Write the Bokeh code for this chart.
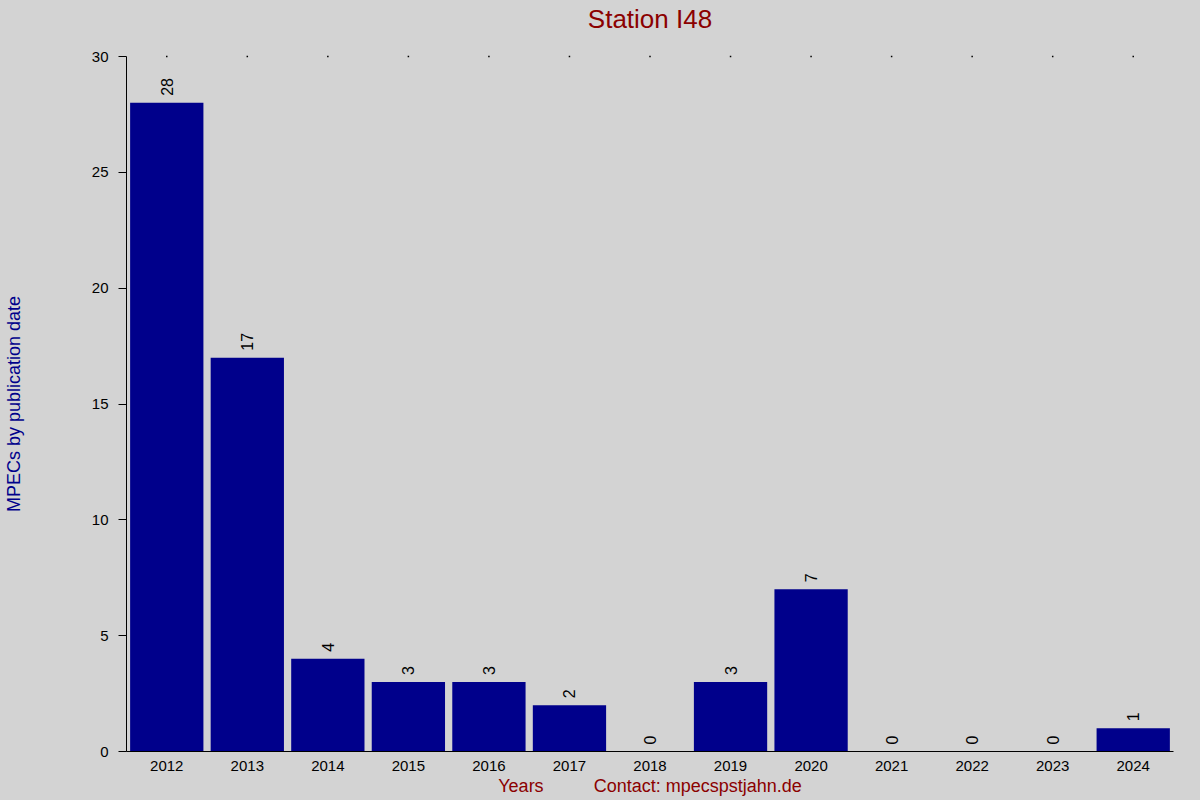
import math
from bokeh.plotting import figure
from bokeh.models import (ColumnDataSource, FactorRange, Range1d, FixedTicker,
                          CategoricalAxis)
from bokeh.core.properties import value
from bokeh.embed import file_html
from bokeh.resources import INLINE

# ---- data ----
years = ["2012", "2013", "2014", "2015", "2016", "2017", "2018",
         "2019", "2020", "2021", "2022", "2023", "2024"]
counts = [28, 17, 4, 3, 3, 2, 0, 3, 7, 0, 0, 0, 1]
y_ticks = [0, 5, 10, 15, 20, 25, 30]
title_text = "Station I48"
y_label = "MPECs by publication date"
x_label_left = "Years"
x_label_right = "Contact: mpecspstjahn.de"

FONT = "Liberation Sans"
BG = "#d3d3d3"
BAR = "#00008b"
RED = "#8b0000"

src = ColumnDataSource(dict(year=years, count=counts, label=[str(c) for c in counts]))
top_src = ColumnDataSource(dict(year=years, top=[y_ticks[-1]] * len(years)))

p = figure(width=1200, height=800,
           x_range=FactorRange(*years), y_range=Range1d(y_ticks[0], y_ticks[-1]),
           output_backend="svg", toolbar_location=None,
           background_fill_color=BG, border_fill_color=BG,
           outline_line_color=None,
           min_border_left=126, min_border_right=27,
           min_border_top=56, min_border_bottom=49)

p.xgrid.visible = False
p.ygrid.visible = False

p.vbar(x="year", top="count", width=0.91, source=src,
       fill_color=BAR, line_color=None)

p.text(x="year", y="count", text="label", source=src,
       angle=math.pi / 2, text_align="left", text_baseline="middle",
       y_offset=-7, text_font_size="16px", text_color="black",
       text_font=value(FONT))

# tiny tick dots along the top edge
p.scatter(x="year", y="top", source=top_src, marker="square", size=1.5,
          fill_color="black", line_color=None, level="overlay")

# y axis
ya = p.yaxis[0]
ya.ticker = FixedTicker(ticks=y_ticks)
ya.minor_tick_line_color = None
ya.major_tick_out = 8
ya.major_tick_in = 0
ya.major_label_standoff = 10
ya.major_label_text_font = FONT
ya.major_label_text_font_size = "15px"
ya.major_label_text_color = "black"
ya.axis_line_color = "black"
ya.major_tick_line_color = "black"
ya.axis_label = y_label
ya.axis_label_text_font = FONT
ya.axis_label_text_font_size = "18px"
ya.axis_label_text_font_style = "normal"
ya.axis_label_text_color = BAR
ya.axis_label_standoff = 65

# x axis (the one below the plot)
xa = p.below[0]
xa.major_tick_line_color = None
xa.major_tick_out = 0
xa.major_tick_in = 0
xa.minor_tick_line_color = None
xa.axis_line_color = "black"
xa.major_label_standoff = 9
xa.major_label_text_font = FONT
xa.major_label_text_font_size = "15px"
xa.major_label_text_color = "black"
xa.major_label_text_line_height = 0.9
xa.axis_label = x_label_left + "\u00a0" * 10 + x_label_right
xa.axis_label_text_font = FONT
xa.axis_label_text_font_size = "18px"
xa.axis_label_text_font_style = "normal"
xa.axis_label_text_color = RED
xa.axis_label_text_line_height = 0.9
xa.axis_label_standoff = 2

# title, centred above the plot area (single-factor axis with no line/ticks)
p.extra_x_ranges = {"title": FactorRange(title_text)}
tax = CategoricalAxis(x_range_name="title",
                      axis_line_color=None, major_tick_line_color=None,
                      minor_tick_line_color=None, major_tick_out=0, major_tick_in=0,
                      major_label_standoff=23,
                      major_label_text_font=FONT, major_label_text_font_size="26px",
                      major_label_text_color=RED)
p.add_layout(tax, "above")

template = """
{% block postamble %}
<style>html, body { background: #d3d3d3; }</style>
{% endblock %}
"""

open("out.html", "w").write(file_html(p, INLINE, title=title_text, template=template))
